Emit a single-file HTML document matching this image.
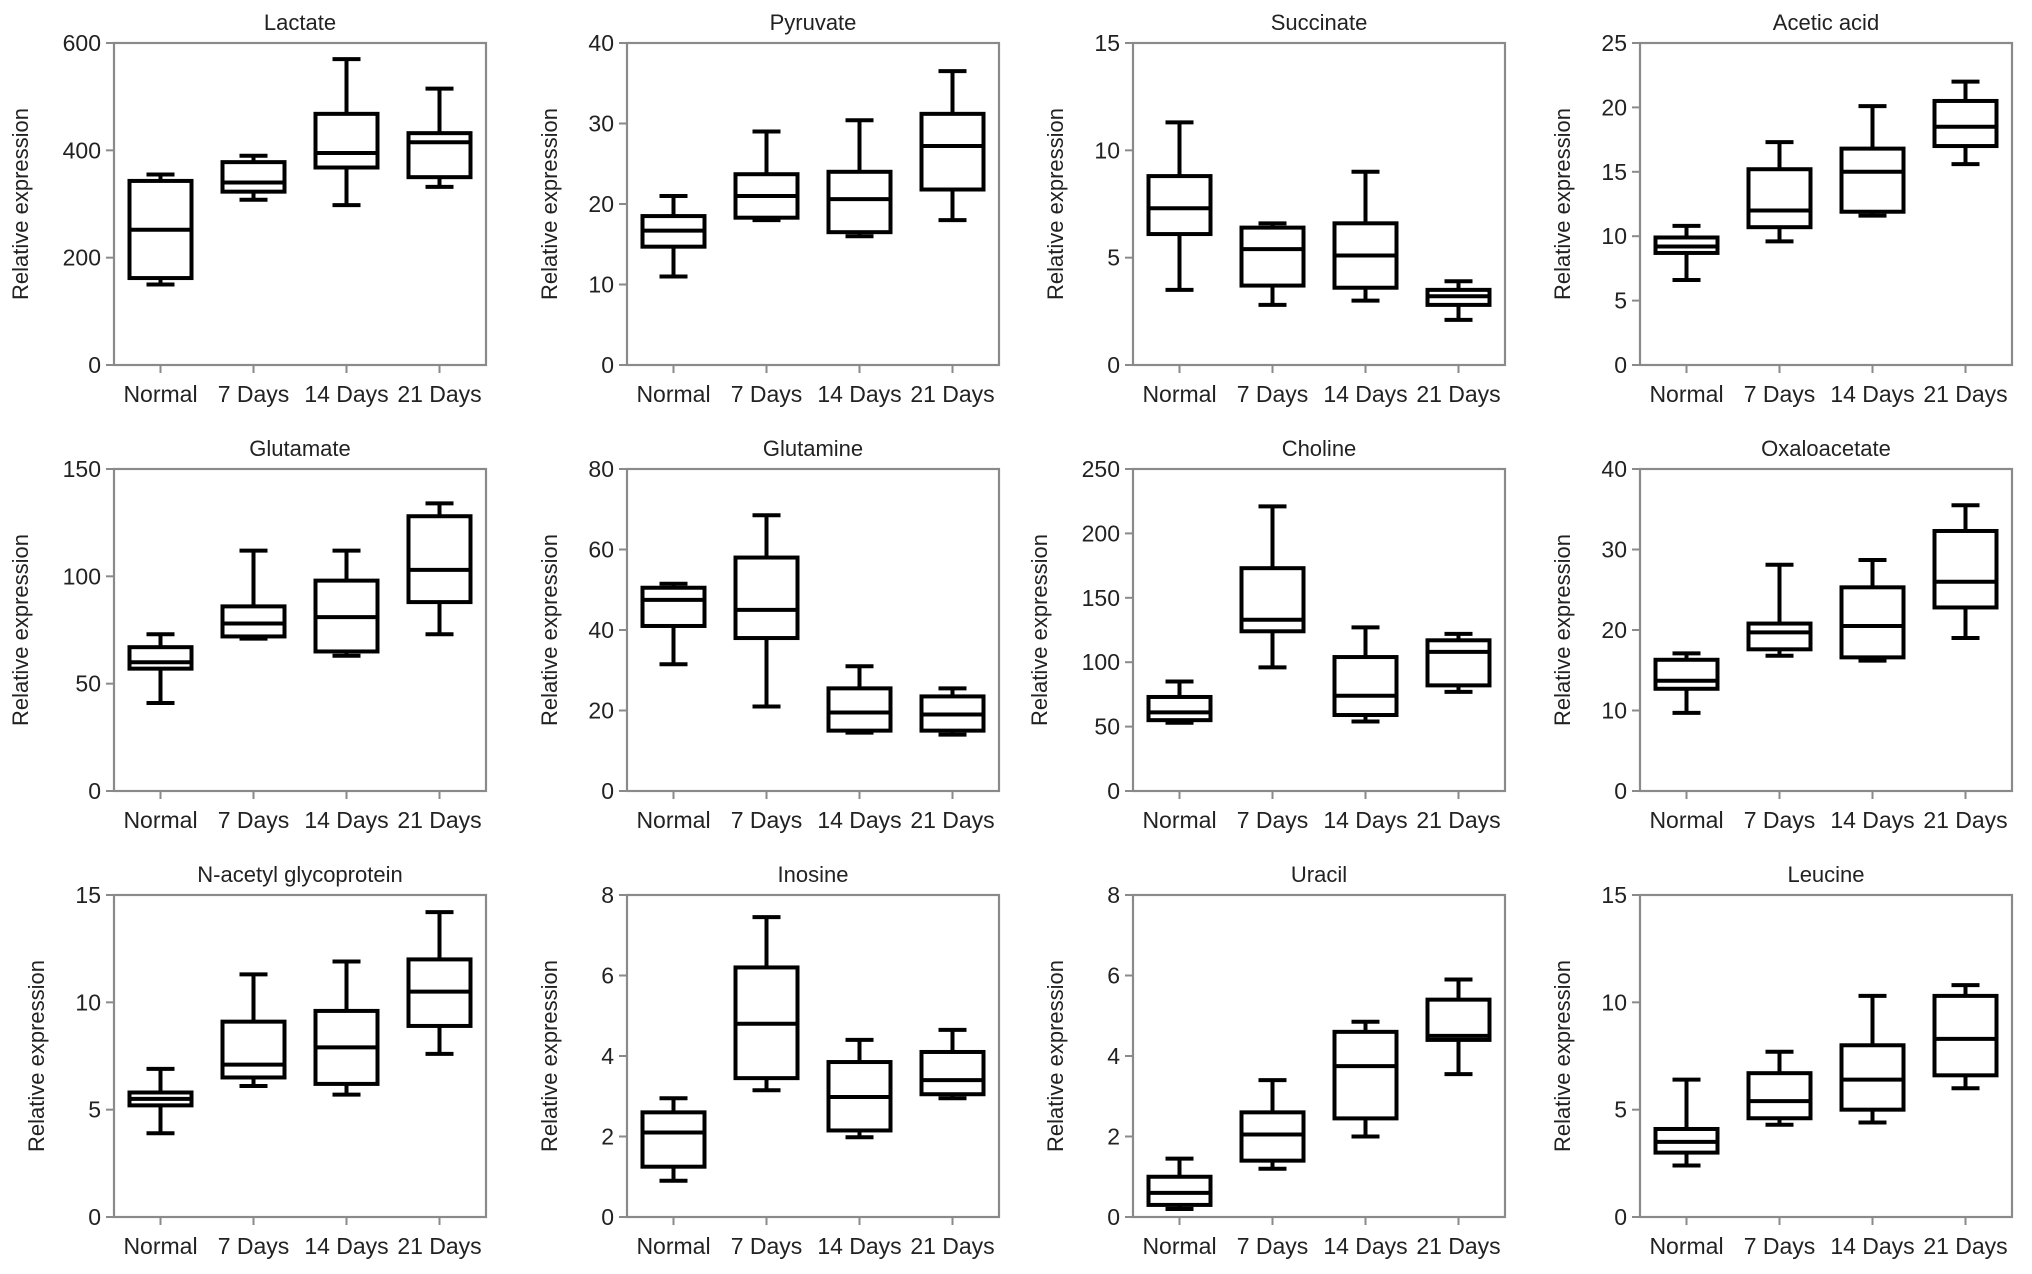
<!DOCTYPE html>
<html><head><meta charset="utf-8">
<style>
html,body{margin:0;padding:0;background:#fff;}
svg{display:block;}
text{font-family:"Liberation Sans",Arial,sans-serif;fill:#222;}
</style></head>
<body>
<svg id="chart" width="2032" height="1274" viewBox="0 0 2032 1274" xmlns="http://www.w3.org/2000/svg"></svg>
<script>
const categories = ["Normal","7 Days","14 Days","21 Days"];
const titles = ["Lactate","Pyruvate","Succinate","Acetic acid","Glutamate","Glutamine","Choline","Oxaloacetate","N-acetyl glycoprotein","Inosine","Uracil","Leucine"];
const yMax = [600,40,15,25,150,80,250,40,15,8,8,15];
const yStep = [200,10,5,5,50,20,50,10,5,2,2,5];
// each group: [min, q1, median, q3, max]
const lactate = [[150,162,252,343,355],[308,323,340,378,390],[298,368,395,468,570],[332,350,415,432,515]];
const pyruvate = [[11,14.7,16.7,18.5,21],[18,18.3,21,23.7,29],[16,16.5,20.6,24,30.4],[18,21.8,27.2,31.2,36.5]];
const succinate = [[3.5,6.1,7.3,8.8,11.3],[2.8,3.7,5.4,6.4,6.6],[3.0,3.6,5.1,6.6,9.0],[2.1,2.8,3.2,3.5,3.9]];
const aceticAcid = [[6.6,8.7,9.2,9.9,10.8],[9.6,10.7,12,15.2,17.3],[11.6,11.9,15,16.8,20.1],[15.6,17,18.5,20.5,22]];
const glutamate = [[41,57,60,67,73],[71,72,78,86,112],[63,65,81,98,112],[73,88,103,128,134]];
const glutamine = [[31.5,41,47.5,50.5,51.5],[21,38,45,58,68.5],[14.5,15,19.5,25.5,31],[14,15,19,23.5,25.5]];
const choline = [[53,55,61,73,85],[96,124,133,173,221],[54,59,74,104,127],[77,82,108,117,122]];
const oxaloacetate = [[9.7,12.7,13.7,16.3,17.1],[16.8,17.6,19.7,20.8,28.1],[16.2,16.6,20.5,25.3,28.7],[19,22.8,26,32.3,35.5]];
const nag = [[3.9,5.2,5.5,5.8,6.9],[6.1,6.5,7.1,9.1,11.3],[5.7,6.2,7.9,9.6,11.9],[7.6,8.9,10.5,12,14.2]];
const inosine = [[0.9,1.25,2.1,2.6,2.95],[3.15,3.45,4.8,6.2,7.45],[1.98,2.15,2.98,3.85,4.4],[2.95,3.05,3.4,4.1,4.65]];
const uracil = [[0.2,0.3,0.6,1.0,1.45],[1.2,1.4,2.05,2.6,3.4],[2.0,2.45,3.75,4.6,4.85],[3.55,4.4,4.5,5.4,5.9]];
const leucine = [[2.4,3.0,3.5,4.1,6.4],[4.3,4.6,5.4,6.7,7.7],[4.4,5.0,6.4,8.0,10.3],[6.0,6.6,8.3,10.3,10.8]];
const series = [lactate,pyruvate,succinate,aceticAcid,glutamate,glutamine,choline,oxaloacetate,nag,inosine,uracil,leucine];

const NS="http://www.w3.org/2000/svg";
const svg=document.getElementById('chart');
function mk(tag,attrs,parent){const e=document.createElementNS(NS,tag);for(const k in attrs)e.setAttribute(k,attrs[k]);(parent||svg).appendChild(e);return e;}
const colLeft=[114,627,1133,1640], rowTop=[43,469,895];
const W=372,H=322;
series.forEach((data,p)=>{
  const L=colLeft[p%4], T=rowTop[Math.floor(p/4)], B=T+H, R=L+W;
  const g=mk('g',{});
  
  
  const y=v=>B-v/yMax[p]*H;
  const x=i=>L+(i+0.5)*W/4;
  const fr=mk('rect',{x:L,y:T,width:W,height:H,fill:'none',stroke:'#8a8a8a','stroke-width':2.2},g);
  
  
  const t=mk('text',{x:(L+R)/2,y:T-13,'text-anchor':'middle','font-size':22},g);
  t.textContent=titles[p];
  
  
  const lblW = String(yMax[p]).length;
  for(let v=0;v<=yMax[p]+1e-9;v+=yStep[p]){
    mk('line',{x1:L-8,x2:L,y1:y(v),y2:y(v),stroke:'#8a8a8a','stroke-width':2},g);
    const tl=mk('text',{x:L-13,y:y(v)+8,'text-anchor':'end','font-size':23},g);
    tl.textContent=v;
    
    
  }
  const yx = L-(lblW>=3?86:70);
  const yt=mk('text',{x:yx,y:(T+B)/2,'text-anchor':'middle','font-size':22,transform:`rotate(-90 ${yx} ${(T+B)/2})`},g);
  yt.textContent='Relative expression';
  
  
  categories.forEach((c,i)=>{
    mk('line',{x1:x(i),x2:x(i),y1:B,y2:B+8,stroke:'#8a8a8a','stroke-width':2},g);
    const cl=mk('text',{x:x(i),y:B+37,'text-anchor':'middle','font-size':23},g);
    cl.textContent=c;
    
    
    const d=data[i], bw=62, cw=28, cx=x(i);
    const bg=mk('g',{stroke:'#000','stroke-width':4,fill:'none'},g);
    
    
    mk('line',{x1:cx,x2:cx,y1:y(d[0]),y2:y(d[1])},bg);
    mk('line',{x1:cx,x2:cx,y1:y(d[3]),y2:y(d[4])},bg);
    mk('line',{x1:cx-cw/2,x2:cx+cw/2,y1:y(d[0]),y2:y(d[0])},bg);
    mk('line',{x1:cx-cw/2,x2:cx+cw/2,y1:y(d[4]),y2:y(d[4])},bg);
    mk('rect',{x:cx-bw/2,y:y(d[3]),width:bw,height:y(d[1])-y(d[3]),fill:'#fff'},bg);
    mk('line',{x1:cx-bw/2,x2:cx+bw/2,y1:y(d[2]),y2:y(d[2])},bg);
  });
});
</script>
</body></html>
